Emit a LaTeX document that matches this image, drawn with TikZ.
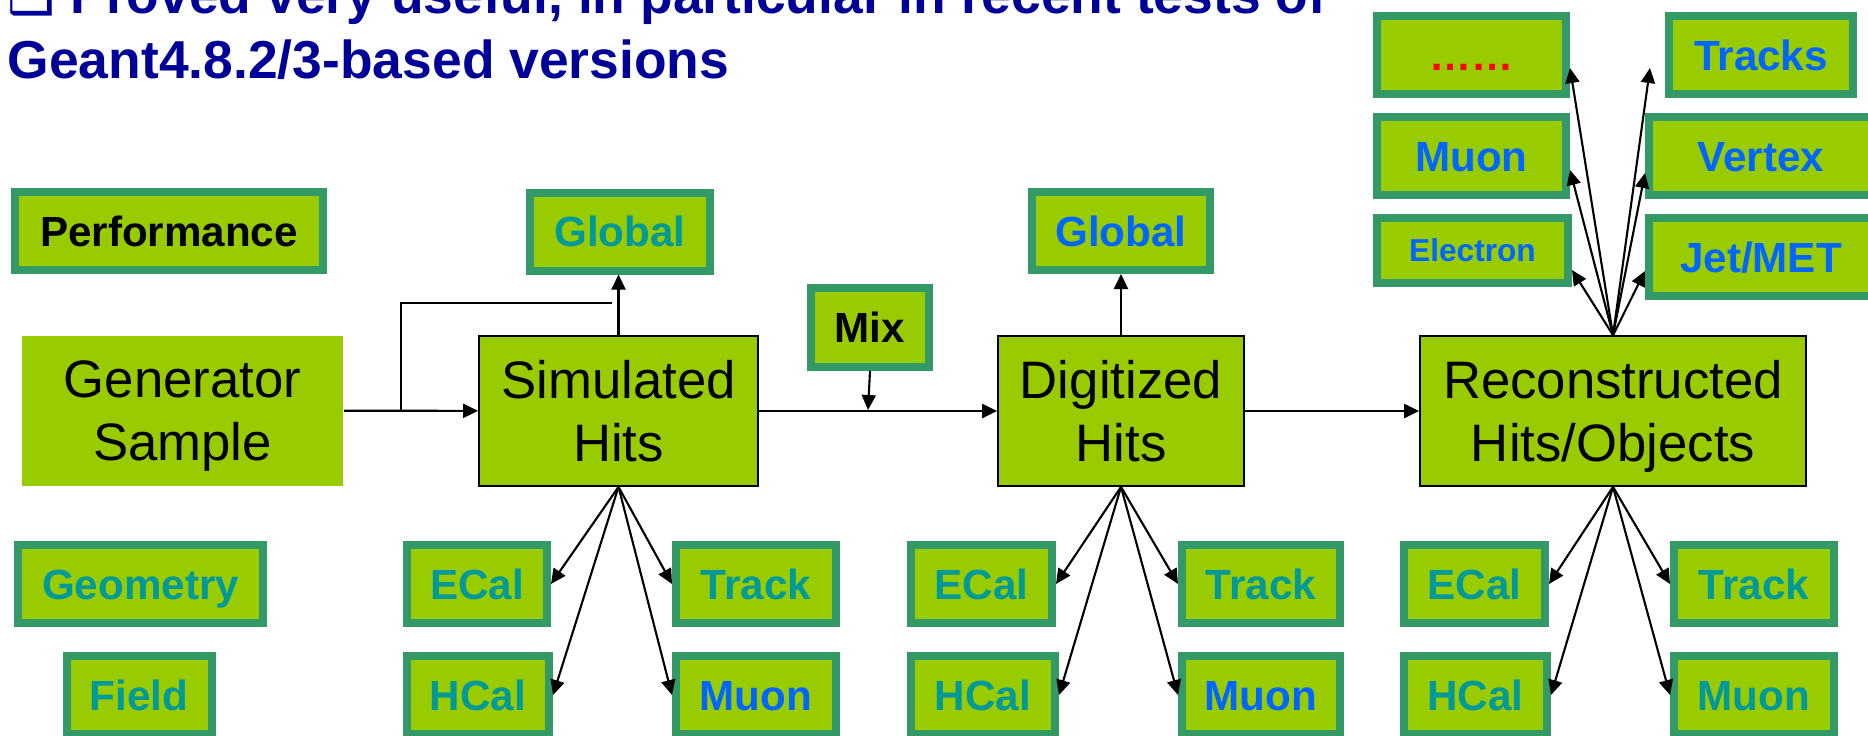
\documentclass[tikz,border=0pt]{standalone}
\usepackage{fontspec}
\setmainfont{Liberation Sans}
\newfontfamily\bulletfont{DejaVu Sans}
\usetikzlibrary{arrows.meta,positioning}
\definecolor{boxgreen}{HTML}{99CC00}
\definecolor{rimgreen}{HTML}{339966}
\definecolor{tealtext}{HTML}{009999}
\definecolor{bluetext}{HTML}{0066FF}
\definecolor{titleblue}{HTML}{000099}

\begin{document}
\begin{tikzpicture}[x=1cm,y=1cm]
\tikzset{
  stagebox/.style={rectangle,draw=black,line width=0.5pt,fill=boxgreen,minimum height=1.5cm,inner sep=0pt,align=center,text depth=0pt,font=\fontsize{15}{18}\selectfont},
  genbox/.style={stagebox,draw=none},
  tagbox/.style={rectangle,draw=rimgreen,line width=0.08cm,fill=boxgreen,minimum height=0.78cm,inner sep=0pt,text height=8.6pt,text depth=0pt,font=\bfseries\fontsize{12}{14}\selectfont},
  titletext/.style={anchor=base west,inner sep=0pt,text=titleblue,font=\bfseries\fontsize{15.2}{18}\selectfont},
  directed/.style={-{Triangle[length=1.5mm,width=1.4mm]},line width=0.6pt},
  plain/.style={line width=0.6pt}
}
\useasboundingbox (0,0) rectangle (18.68,7.35);
% heading
\node[titletext] (n_title1) at (0.07,7.22) {{\bulletfont ❑} Proved very useful, in particular in recent tests of};
\node[titletext] (n_title2) at (0.07,6.57) {Geant4.8.2/3-based versions};
% processing chain
\node[genbox,minimum width=3.21cm] (n_gen) at (1.825,3.245) {Generator\\Sample};
\node[stagebox,minimum width=2.79cm] (n_sim) at (6.185,3.24) {Simulated\\Hits};
\node[stagebox,minimum width=2.46cm] (n_digi) at (11.21,3.24) {Digitized\\Hits};
\node[stagebox,minimum width=3.86cm] (n_reco) at (16.13,3.24) {Reconstructed\\Hits/Objects};
% validation packages
\node[tagbox,minimum width=3.08cm] (n_perf) at (1.69,5.04) {Performance};
\node[tagbox,minimum width=2.45cm,text=tealtext] (n_geometry) at (1.405,1.51) {Geometry};
\node[tagbox,minimum width=1.45cm,text=tealtext] (n_field) at (1.39,0.40) {Field};
\node[tagbox,minimum width=1.80cm,text=tealtext] (n_simglobal) at (6.20,5.035) {Global};
\node[tagbox,minimum width=1.18cm,minimum height=0.79cm] (n_mix) at (8.70,4.075) {Mix};
\node[tagbox,minimum width=1.78cm,text=bluetext] (n_digiglobal) at (11.21,5.04) {Global};
\node[tagbox,minimum width=1.40cm,text=tealtext] (n_simecal) at (4.77,1.51) {ECal};
\node[tagbox,minimum width=1.42cm,text=tealtext] (n_simhcal) at (4.78,0.40) {HCal};
\node[tagbox,minimum width=1.60cm,text=tealtext] (n_simtrack) at (7.56,1.51) {Track};
\node[tagbox,minimum width=1.60cm,text=bluetext] (n_simmuon) at (7.56,0.40) {Muon};
\node[tagbox,minimum width=1.41cm,text=tealtext] (n_digiecal) at (9.815,1.51) {ECal};
\node[tagbox,minimum width=1.44cm,text=tealtext] (n_digihcal) at (9.83,0.40) {HCal};
\node[tagbox,minimum width=1.58cm,text=tealtext] (n_digitrack) at (12.61,1.51) {Track};
\node[tagbox,minimum width=1.58cm,text=bluetext] (n_digimuon) at (12.61,0.40) {Muon};
\node[tagbox,minimum width=1.41cm,text=tealtext] (n_recoecal) at (14.745,1.51) {ECal};
\node[tagbox,minimum width=1.43cm,text=tealtext] (n_recohcal) at (14.755,0.40) {HCal};
\node[tagbox,minimum width=1.60cm,text=tealtext] (n_recotrack) at (17.54,1.51) {Track};
\node[tagbox,minimum width=1.60cm,text=tealtext] (n_recomuon) at (17.54,0.40) {Muon};
% reconstructed objects
\node[tagbox,minimum width=1.89cm,text=red] (n_more) at (14.715,6.80) {……};
\node[tagbox,minimum width=1.84cm,text=bluetext] (n_tracks) at (17.61,6.80) {Tracks};
\node[tagbox,minimum width=1.89cm,text=bluetext] (n_objmuon) at (14.715,5.79) {Muon};
\node[tagbox,minimum width=2.24cm,text=bluetext] (n_vertex) at (17.61,5.79) {Vertex};
\node[tagbox,minimum width=1.91cm,minimum height=0.65cm,text height=6.45pt,text=bluetext,font=\bfseries\fontsize{9}{11}\selectfont] (n_electron) at (14.725,4.845) {Electron};
\node[tagbox,minimum width=2.24cm,text=bluetext] (n_jetmet) at (17.61,4.78) {Jet/MET};
\coordinate (c_fork) at (4.01,3.25);
\coordinate (c_loopend) at (6.12,4.32);
\coordinate (c_mixin) at (8.68,3.25);
% main flow
\draw[directed] (n_gen) -- (n_sim);
\draw[plain] (c_fork) |- (c_loopend);
\draw[directed] (n_sim.north) -- (n_sim.north |- n_simglobal.south);
\draw[directed] (n_sim) -- (n_digi);
\draw[directed] (n_mix.south) -- (c_mixin);
\draw[directed] (n_digi) -- (n_digiglobal);
\draw[directed] (n_digi) -- (n_reco);
% sub-detector branches
\draw[directed] (n_sim.south) -- (n_simecal.east);
\draw[directed] (n_sim.south) -- (n_simhcal.east);
\draw[directed] (n_sim.south) -- (n_simtrack.west);
\draw[directed] (n_sim.south) -- (n_simmuon.west);
\draw[directed] (n_digi.south) -- (n_digiecal.east);
\draw[directed] (n_digi.south) -- (n_digihcal.east);
\draw[directed] (n_digi.south) -- (n_digitrack.west);
\draw[directed] (n_digi.south) -- (n_digimuon.west);
\draw[directed] (n_reco.south) -- (n_recoecal.east);
\draw[directed] (n_reco.south) -- (n_recohcal.east);
\draw[directed] (n_reco.south) -- (n_recotrack.west);
\draw[directed] (n_reco.south) -- (n_recomuon.west);
% object branches
\draw[directed] (n_reco.north) -- ([yshift=-0.195cm]n_electron.east);
\draw[directed] (n_reco.north) -- ([yshift=-0.14cm]n_objmuon.east);
\draw[directed] (n_reco.north) -- ([yshift=-0.13cm]n_more.east);
\draw[directed] (n_reco.north) -- ([yshift=-0.14cm]n_jetmet.west);
\draw[directed] (n_reco.north) -- ([yshift=-0.17cm]n_vertex.west);
\draw[directed] (n_reco.north) -- ([xshift=-0.15cm,yshift=-0.13cm]n_tracks.west);
\end{tikzpicture}
\end{document}
